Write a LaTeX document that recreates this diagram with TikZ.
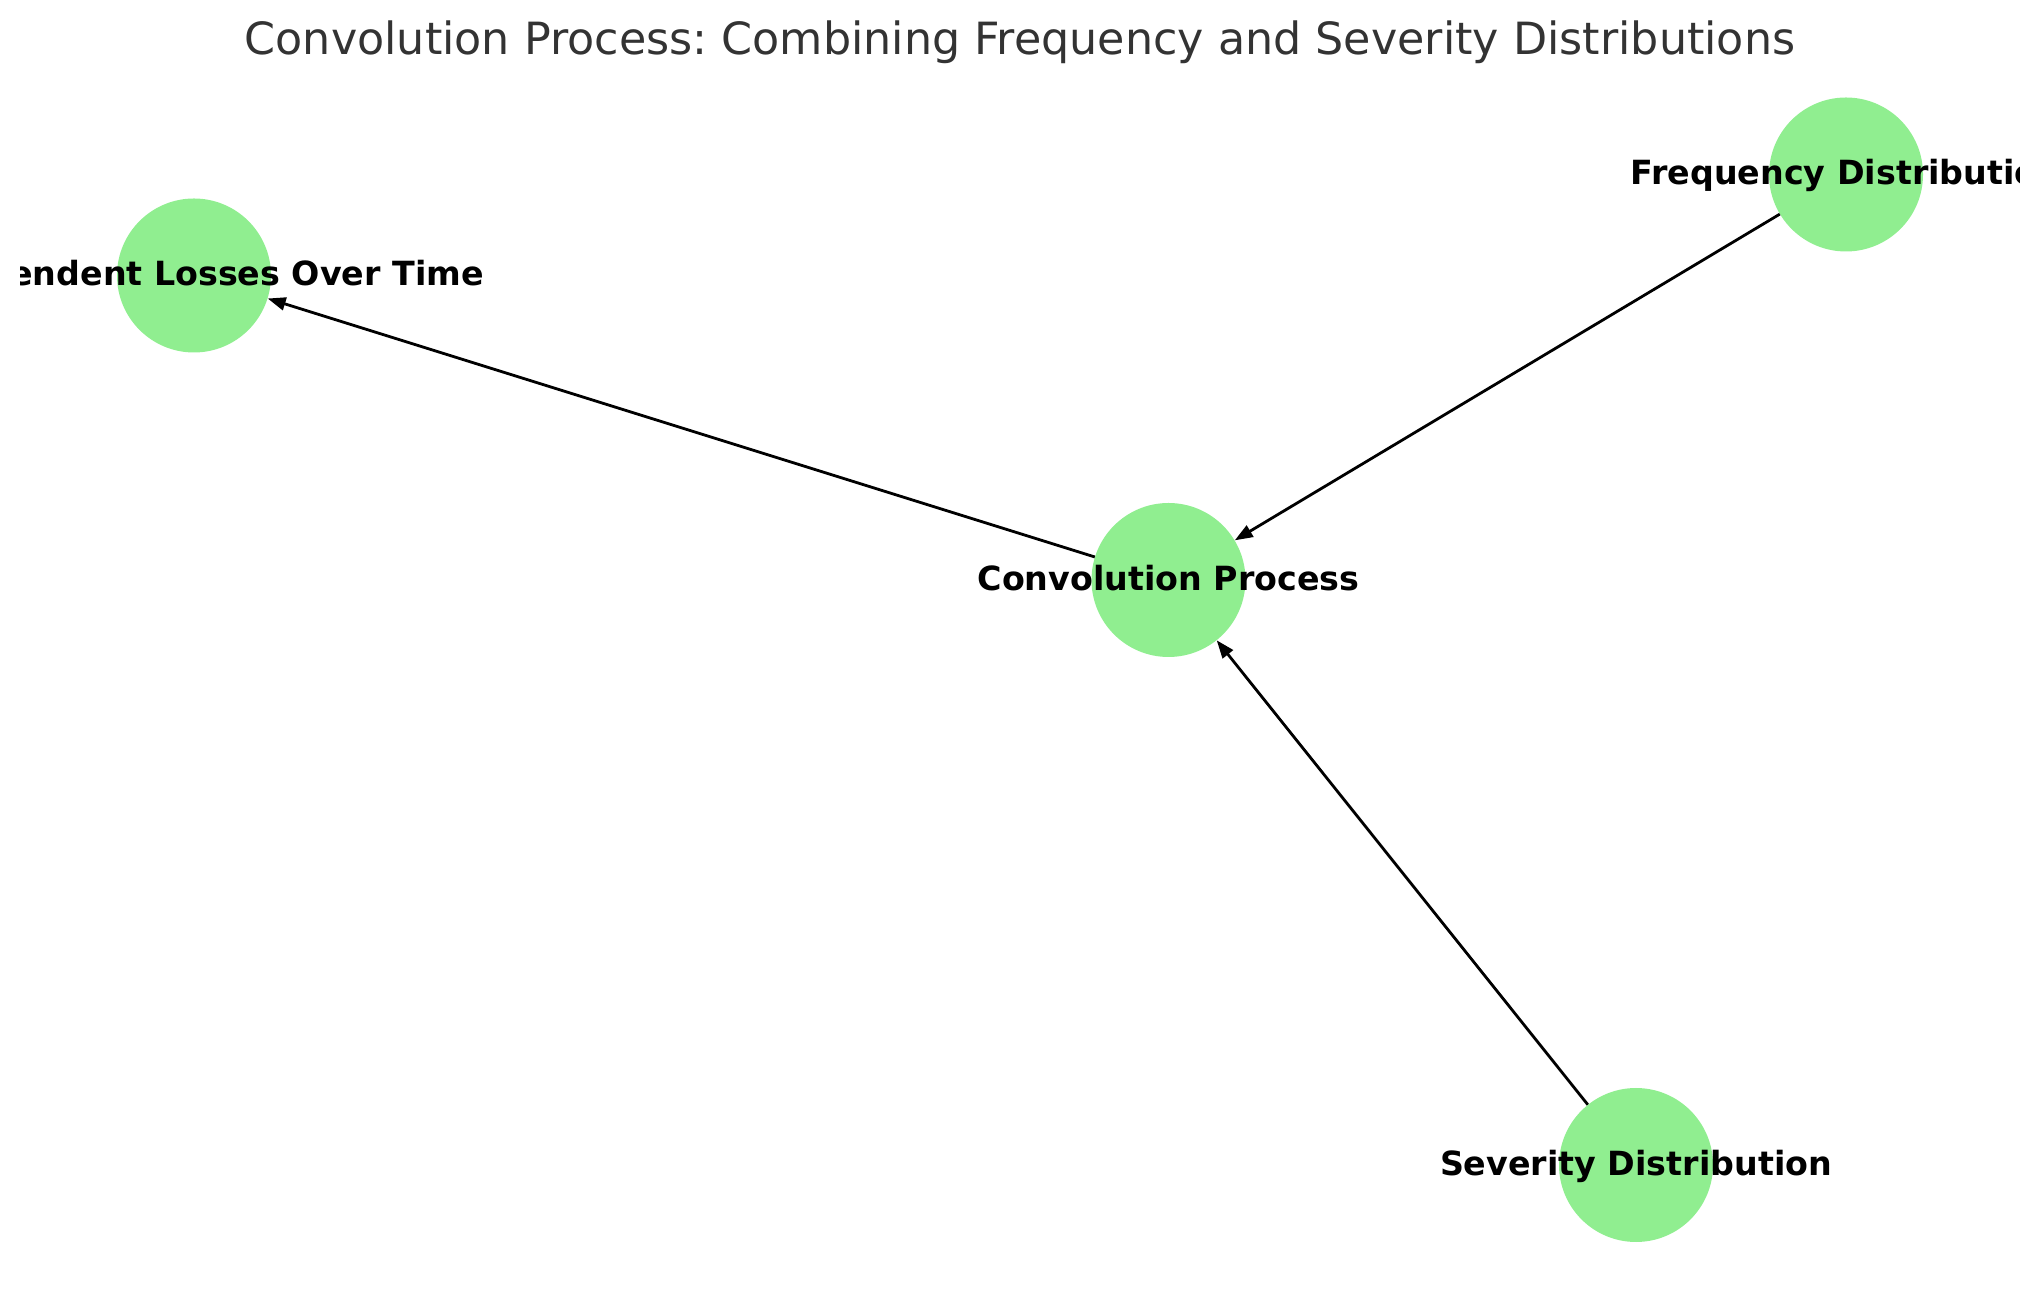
\documentclass[tikz,border=0pt]{standalone}
\usepackage{fontspec}
\setmainfont{DejaVu Sans}
\usetikzlibrary{arrows.meta}
\definecolor{nodegreen}{HTML}{90EE90}
\definecolor{titlegray}{HTML}{333333}
\frenchspacing
\begin{document}
\begin{tikzpicture}[x=1pt,y=1pt,
  vert/.style={circle,fill=nodegreen,draw=none,minimum size=154pt,inner sep=0pt},
  lbl/.style={anchor=base,inner sep=0pt,font=\fontsize{33.3}{40}\selectfont\bfseries},
  edge/.style={draw=black,line width=2.8pt,-{Triangle[length=18pt,width=13pt]}}]
\useasboundingbox (0,0) rectangle (2039,1290);
\node[anchor=base,text=titlegray,inner sep=0pt,font=\fontsize{44.4}{52}\selectfont] (title) at (1020,1235) {Convolution Process: Combining Frequency and Severity Distributions};
\node[vert] (freq) at (1846,1115.5) {};
\node[vert] (loss) at (194,1014.5) {};
\node[vert] (conv) at (1168.5,710) {};
\node[vert] (sev) at (1636,125) {};
\draw[edge] (freq) -- (conv);
\draw[edge] (sev) -- (conv);
\draw[edge] (conv) -- (loss);
\begin{scope}
\clip (20,0) rectangle (2019,1290);
\node[lbl] (freqlbl) at (1846,1105) {Frequency Distribution};
\node[lbl] (losslbl) at (194,1004) {Independent Losses Over Time};
\node[lbl] (convlbl) at (1168.5,699.5) {Convolution Process};
\node[lbl] (sevlbl) at (1636,114.5) {Severity Distribution};
\end{scope}
\end{tikzpicture}
\end{document}
